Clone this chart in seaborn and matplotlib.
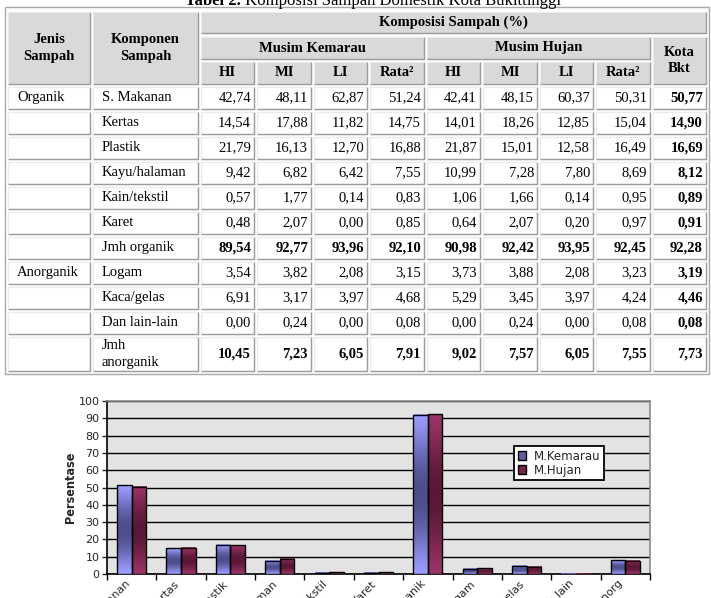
import numpy as np
import pandas as pd
import matplotlib
matplotlib.use("Agg")
import matplotlib.pyplot as plt
import seaborn as sns
from matplotlib.patches import Rectangle, Patch
from matplotlib.colors import to_rgb

# ---------------- data ----------------
title_bold = "Tabel 2."
title_rest = " Komposisi Sampah Domestik Kota Bukittinggi"

jenis = ["Organik", "", "", "", "", "", "", "Anorganik", "", "", ""]
komponen = ["S. Makanan", "Kertas", "Plastik", "Kayu/halaman", "Kain/tekstil",
            "Karet", "Jmh organik", "Logam", "Kaca/gelas", "Dan lain-lain",
            "Jmh\nanorganik"]
bold_rows = [6, 10]

hi_kemarau = [42.74, 14.54, 21.79, 9.42, 0.57, 0.48, 89.54, 3.54, 6.91, 0.00, 10.45]
mi_kemarau = [48.11, 17.88, 16.13, 6.82, 1.77, 2.07, 92.77, 3.82, 3.17, 0.24, 7.23]
li_kemarau = [62.87, 11.82, 12.70, 6.42, 0.14, 0.00, 93.96, 2.08, 3.97, 0.00, 6.05]
rata_kemarau = [51.24, 14.75, 16.88, 7.55, 0.83, 0.85, 92.10, 3.15, 4.68, 0.08, 7.91]
hi_hujan = [42.41, 14.01, 21.87, 10.99, 1.06, 0.64, 90.98, 3.73, 5.29, 0.00, 9.02]
mi_hujan = [48.15, 18.26, 15.01, 7.28, 1.66, 2.07, 92.42, 3.88, 3.45, 0.24, 7.57]
li_hujan = [60.37, 12.85, 12.58, 7.80, 0.14, 0.20, 93.95, 2.08, 3.97, 0.00, 6.05]
rata_hujan = [50.31, 15.04, 16.49, 8.69, 0.95, 0.97, 92.45, 3.23, 4.24, 0.08, 7.55]
kota_bkt = [50.77, 14.90, 16.69, 8.12, 0.89, 0.91, 92.28, 3.19, 4.46, 0.08, 7.73]

hdr_top = "Komposisi Sampah (%)"
hdr_groups = ["Musim Kemarau", "Musim Hujan"]
hdr_sub = ["HI", "MI", "LI", "Rata²", "HI", "MI", "LI", "Rata²"]
hdr_kota = "Kota\nBkt"
hdr_jenis = "Jenis\nSampah"
hdr_komp = "Komponen\nSampah"

chart_labels = ["S.Makanan", "Kertas", "Plastik", "Kayu/halaman", "Kain/tekstil",
                "Karet", "J.organik", "Logam", "Kaca/gelas", "Lain lain", "J.anorg"]
series_names = ["M.Kemarau", "M.Hujan"]
y_ticks = list(range(0, 101, 10))
y_label = "Persentase"

# ---------------- figure ----------------
W, H = 711, 598
fig = plt.figure(figsize=(W / 100, H / 100), dpi=100)
fig.patch.set_facecolor("white")

# table layer in pixel coordinates
tab = fig.add_axes([0, 0, 1, 1])
tab.set_xlim(0, W)
tab.set_ylim(H, 0)
tab.axis("off")

SERIF = "Liberation Serif"
FS = 10.5


def cell(x0, y0, x1, y1, fill="white"):
    tab.add_patch(Rectangle((x0, y0), x1 - x0, y1 - y0, facecolor=fill,
                            edgecolor="#c8c8c8", lw=0.8))
    tab.plot([x0, x1, x1], [y1, y1, y0], color="#9c9c9c", lw=1.0,
             solid_capstyle="butt")
    tab.plot([x0, x0, x1], [y1, y0, y0], color="#f4f4f4", lw=0.6,
             solid_capstyle="butt")


def txt(x, y, s, ha="center", bold=False, size=FS):
    tab.text(x, y, s, ha=ha, va="center", family=SERIF, fontsize=size,
             fontweight="bold" if bold else "normal", linespacing=1.35)


# outer table border
tab.add_patch(Rectangle((5, 7), 704, 367, facecolor="none",
                        edgecolor="#a8a8a8", lw=1.0))

HDR = "#d9d9d9"
cols = [(8, 90), (93, 198), (201, 254), (257, 311), (314, 367), (370, 424),
        (427, 480), (483, 537), (540, 593), (596, 650), (653, 706)]
r0, r1, r2 = (12, 33), (37, 59), (62, 84)

# title (cut at top edge)
t1 = tab.text(185, 5, title_bold, ha="left", va="baseline", family=SERIF,
              fontsize=12, fontweight="bold")
fig.canvas.draw()
bb = t1.get_window_extent(renderer=fig.canvas.get_renderer())
tab.text(185 + bb.width, 5, title_rest, ha="left", va="baseline",
         family=SERIF, fontsize=12)

# header
cell(cols[0][0], r0[0], cols[0][1], r2[1], HDR)
txt(sum(cols[0]) / 2, (r0[0] + r2[1]) / 2, hdr_jenis, bold=True)
cell(cols[1][0], r0[0], cols[1][1], r2[1], HDR)
txt(sum(cols[1]) / 2, (r0[0] + r2[1]) / 2, hdr_komp, bold=True)
cell(cols[2][0], r0[0], cols[10][1], r0[1], HDR)
txt((cols[2][0] + cols[10][1]) / 2, sum(r0) / 2, hdr_top, bold=True)
cell(cols[2][0], r1[0], cols[5][1], r1[1], HDR)
txt((cols[2][0] + cols[5][1]) / 2, sum(r1) / 2, hdr_groups[0], bold=True)
cell(cols[6][0], r1[0], cols[9][1], r1[1], HDR)
txt((cols[6][0] + cols[9][1]) / 2, sum(r1) / 2, hdr_groups[1], bold=True)
cell(cols[10][0], r1[0], cols[10][1], r2[1], HDR)
txt(sum(cols[10]) / 2, (r1[0] + r2[1]) / 2, hdr_kota, bold=True)
for j, s in enumerate(hdr_sub):
    c = cols[2 + j]
    cell(c[0], r2[0], c[1], r2[1], HDR)
    txt(sum(c) / 2, sum(r2) / 2, s, bold=True)

# body
columns = [hi_kemarau, mi_kemarau, li_kemarau, rata_kemarau,
           hi_hujan, mi_hujan, li_hujan, rata_hujan, kota_bkt]
for i in range(len(komponen)):
    y0 = 87 + 25 * i
    y1 = y0 + 21.5 if i < len(komponen) - 1 else 371
    yc = (y0 + y1) / 2
    cell(cols[0][0], y0, cols[0][1], y1)
    if jenis[i]:
        txt(17, yc, jenis[i], ha="left")
    cell(cols[1][0], y0, cols[1][1], y1)
    txt(102, yc, komponen[i], ha="left")
    for j, col in enumerate(columns):
        c = cols[2 + j]
        cell(c[0], y0, c[1], y1)
        b = (i in bold_rows) or (j == len(columns) - 1)
        txt(c[1] - 3, yc, f"{col[i]:.2f}".replace(".", ","), ha="right", bold=b)

# ---------------- chart ----------------
sns.set_style("white")
ax = fig.add_axes([107 / W, (H - 574) / H, 543 / W, 173 / H])
ax.set_facecolor("#e3e3e3")

df = pd.DataFrame({
    "kategori": chart_labels * 2,
    "nilai": rata_kemarau + rata_hujan,
    "musim": [series_names[0]] * len(chart_labels) + [series_names[1]] * len(chart_labels),
})
sns.barplot(data=df, x="kategori", y="nilai", hue="musim", hue_order=series_names,
            palette=["#9999ff", "#993366"], saturation=1, width=0.59,
            edgecolor="black", linewidth=1.0, ax=ax, legend=False, zorder=3)

grads = [(to_rgb("#9c9cff"), to_rgb("#4e4e8c")),
         (to_rgb("#9b3468"), to_rgb("#5a1836"))]
N = 64
t = np.linspace(0, 1, N)
d = np.sin(np.pi * t) ** 1.3
for cont, (light, dark) in zip(ax.containers, grads):
    arr = (np.array(light)[None, :] * (1 - d[:, None]) +
           np.array(dark)[None, :] * d[:, None])[:, None, :]
    for bar in cont:
        x, w, hgt = bar.get_x(), bar.get_width(), bar.get_height()
        if hgt <= 0:
            continue
        ax.imshow(arr, extent=[x, x + w, bar.get_y(), bar.get_y() + hgt],
                  origin="lower", aspect="auto", zorder=3,
                  interpolation="bilinear")
        bar.set_facecolor("none")
        bar.set_zorder(4)

ax.set_xlim(-0.5, len(chart_labels) - 0.5)
ax.set_ylim(0, 100)
ax.set_yticks(y_ticks)
ax.set_yticklabels([str(v) for v in y_ticks], family="DejaVu Sans", fontsize=8)
ax.yaxis.grid(True, color="black", lw=1.0)
ax.set_axisbelow(True)
ax.tick_params(axis="y", length=3.5, width=1, pad=2, left=True, direction="out")

ax.set_xticks(range(len(chart_labels)))
ax.set_xticklabels(chart_labels, rotation=45, ha="right", va="top",
                   family="DejaVu Sans", fontsize=8)
ax.set_xticks(np.arange(-0.5, len(chart_labels)), minor=True)
ax.tick_params(axis="x", which="major", length=0, pad=3)
ax.tick_params(axis="x", which="minor", length=4, width=1, color="black",
               direction="out", bottom=True)
ax.set_xlabel("")
ax.set_ylabel(y_label, family="DejaVu Sans", fontsize=9, fontweight="bold",
              fontstretch="condensed")
ax.yaxis.set_label_coords(-0.056, 0.5)

for s in ["left", "bottom"]:
    ax.spines[s].set_color("black")
    ax.spines[s].set_linewidth(1.2)
for s in ["top", "right"]:
    ax.spines[s].set_color("#8a8a8a")
    ax.spines[s].set_linewidth(1.2)
    ax.spines[s].set_visible(True)

handles = [Patch(facecolor="#5c5ca0", edgecolor="black", lw=1.0),
           Patch(facecolor="#7a2048", edgecolor="black", lw=1.0)]
leg = ax.legend(handles, series_names, loc="upper left",
                bbox_to_anchor=(0.7495, 0.740), borderaxespad=0,
                frameon=True, fancybox=False, edgecolor="black", framealpha=1,
                prop={"family": "DejaVu Sans", "size": 8.5},
                handlelength=0.7, handleheight=0.7, handletextpad=0.7,
                borderpad=0.3, labelspacing=0.1)
leg.get_frame().set_linewidth(1.3)
leg.set_zorder(10)

fig.savefig("out.png", dpi=100)
